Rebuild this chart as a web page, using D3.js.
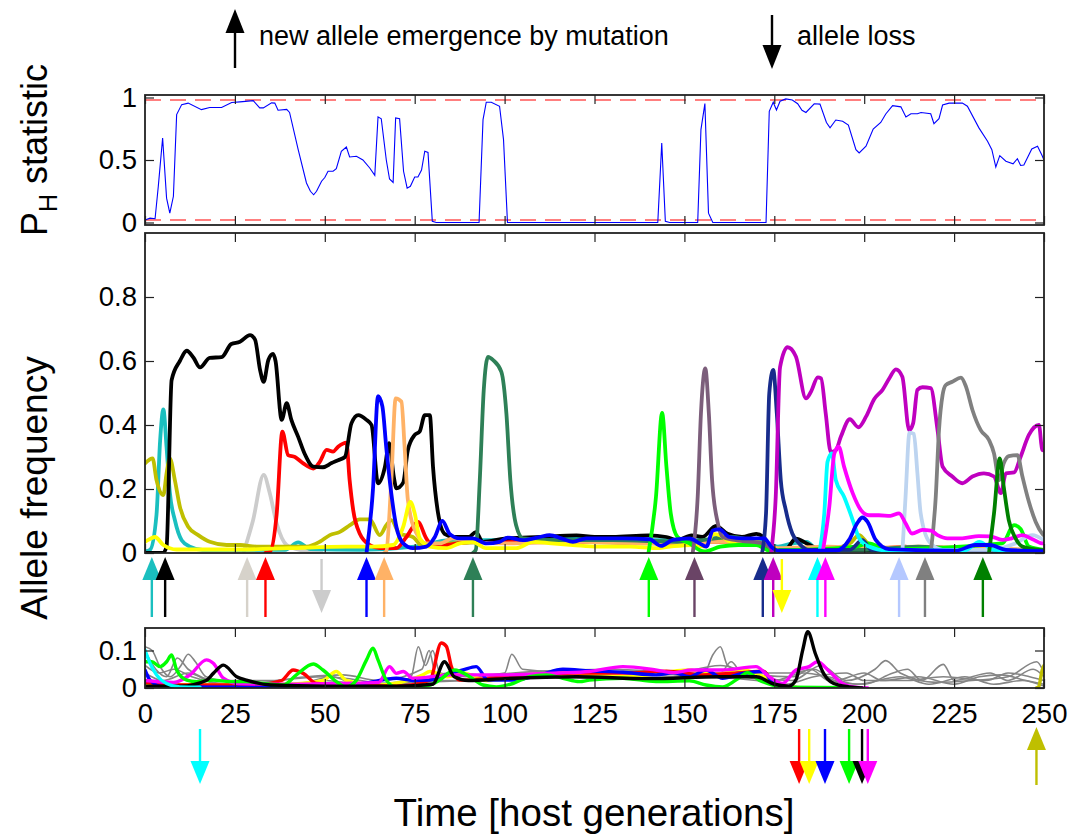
<!DOCTYPE html>
<html>
<head>
<meta charset="utf-8">
<script src="https://cdn.jsdelivr.net/npm/d3@7"></script>
<style>
  body { margin: 0; background: #fff; }
  svg { display: block; font-family: "Liberation Sans", Arial, sans-serif; }
</style>
</head>
<body>
<svg id="chart" width="1074" height="834"></svg>
<script>
// ---------- data ----------
const xTicks = [0, 25, 50, 75, 100, 125, 150, 175, 200, 225, 250];
const phTicks = [0, 0.5, 1];
const freqTicks = [0, 0.2, 0.4, 0.6, 0.8];
const lowTicks = [0, 0.1];
const phBounds = [0.02, 0.98];

// P_H statistic (top panel)
const phTime = [0,1.4,2.8,3.7,4.9,6,6.9,7.9,8.8,10.2,12,15.7,18,21.3,24.1,26.4,30.1,31.9,32.9,35.2,36.1,37,39.4,40.2,42.6,44.9,46,46.9,47.7,49.1,50,50.9,52.3,53.2,54.6,56,56.9,58.8,60.6,62.5,63.9,64.8,65.7,67.1,68,69,69.7,70.8,71.9,72.9,73.8,75,75.9,76.9,77.8,78.7,79.9,81,92.9,94,94.9,96.3,98.6,99.7,100.8,142.6,143.7,144.7,145.9,153.7,154.6,155.7,156.7,157.9,172.7,173.6,174.7,175.6,176.6,178.2,180,181.5,182.7,183.8,186.1,187.7,189.5,190.5,192.1,194,195.6,197.7,198.6,200.5,202.5,204.6,206,207.9,210.2,211.6,213,214.8,215.8,218.5,219.4,220.8,221.8,223.6,227.3,228.7,231.9,234.3,235.5,236.6,237.7,239.4,241.4,242.6,243.5,244.4,246.6,248.2,249.4,250];
const phValue = [0.02,0.035,0.03,0.29,0.676,0.195,0.075,0.21,0.863,0.943,0.955,0.903,0.92,0.92,0.96,0.965,0.975,0.917,0.917,0.957,0.955,0.898,0.905,0.88,0.583,0.316,0.25,0.222,0.25,0.33,0.36,0.41,0.41,0.43,0.57,0.604,0.524,0.53,0.5,0.436,0.377,0.845,0.83,0.5,0.348,0.32,0.836,0.83,0.41,0.275,0.29,0.364,0.364,0.42,0.57,0.56,0.01,0,0,0.823,0.962,0.962,0.93,0.663,0,0,0.636,0.01,0,0,0.743,0.951,0.075,0,0,0.89,0.962,0.9,0.97,0.989,0.98,0.95,0.898,0.88,0.95,0.947,0.8,0.757,0.82,0.81,0.78,0.583,0.556,0.61,0.748,0.8,0.868,0.935,0.925,0.845,0.87,0.87,0.88,0.87,0.79,0.83,0.94,0.955,0.955,0.93,0.757,0.65,0.583,0.444,0.535,0.49,0.47,0.51,0.456,0.46,0.588,0.61,0.54,0.5];

// allele frequencies, middle panel: [time, frequency]
const lightGrayFreq = [[27.5,0.005],[30,0.1],[33,0.244],[34.7,0.187],[36.6,0.093],[39.4,0.025],[43,0.01],[49,0.003]];
const tealFreq = [[0,0.005],[1.4,0.01],[3.2,0.12],[4.2,0.35],[5.1,0.449],[6,0.33],[6.9,0.19],[8.3,0.103],[10.2,0.04],[12.5,0.02],[16,0.01],[39,0.01],[42.6,0.033],[46,0.012],[60,0.01],[75,0.02],[85,0.04],[100,0.04],[110,0.045],[125,0.045],[140,0.04],[160,0.04],[172,0.035],[176,0.02],[180,0.03],[184,0.035],[187,0.01],[250,0.005]];
const oliveFreq = [[0,0.28],[2.1,0.296],[3.2,0.228],[5.1,0.181],[6,0.249],[6.9,0.296],[8.3,0.228],[9.7,0.145],[12,0.082],[14.8,0.056],[18,0.035],[22.7,0.025],[26.4,0.025],[31,0.02],[44.9,0.02],[48.6,0.035],[51.4,0.056],[54.2,0.066],[57,0.087],[59.7,0.105],[62.5,0.105],[65.3,0.056],[67.1,0.087],[68.5,0.103],[70.8,0.06],[74.5,0.05],[77.3,0.02],[85,0.03],[100,0.035],[120,0.035],[140,0.03],[160,0.04],[172,0.03],[176,0.01],[190,0.012],[196,0.03],[198.6,0.056],[201,0.03],[206,0.012],[250,0.005]];
const redFreq = [[33.5,0],[34.7,0.003],[36.6,0.12],[38.2,0.379],[39.8,0.306],[41.7,0.3],[44,0.28],[46.8,0.264],[48.6,0.285],[50.5,0.322],[52.3,0.317],[53.7,0.332],[56,0.345],[56.9,0.228],[57.9,0.134],[59.7,0.061],[62.5,0.025],[65.3,0.015],[69.9,0.015],[72.7,0.05],[75.9,0.097],[78.2,0.046],[80.1,0.02],[91.2,0.035],[110,0.035],[125,0.035],[145,0.03],[160,0.035],[172,0.03],[175,0.01],[200,0.01],[211.5,0.02],[215,0.01],[250,0.005]];
const blackFreq = [[0,0],[5,0],[6,0.02],[7.4,0.54],[9.7,0.6],[11.6,0.632],[13.5,0.61],[15.3,0.58],[18,0.61],[21.3,0.612],[24,0.653],[26.4,0.66],[29.2,0.681],[30.6,0.667],[32,0.572],[33,0.535],[34.3,0.603],[35.6,0.622],[36.3,0.6],[38,0.416],[39.4,0.468],[40.7,0.416],[42.6,0.363],[44.4,0.31],[46.8,0.27],[49.5,0.268],[51.9,0.281],[53.7,0.29],[55.6,0.3],[57.4,0.405],[59.3,0.431],[61.6,0.416],[63,0.4],[64.8,0.218],[66.7,0.268],[67.9,0.343],[69.2,0.237],[69.9,0.202],[71.8,0.22],[73.1,0.322],[75,0.369],[76.4,0.38],[77.8,0.431],[79.2,0.431],[80.1,0.268],[81.5,0.124],[83.3,0.06],[86,0.05],[90,0.05],[92,0.065],[94,0.035],[100,0.045],[110,0.05],[120,0.055],[125,0.05],[130,0.05],[140,0.055],[145,0.05],[148,0.04],[152,0.055],[155,0.05],[158.8,0.085],[162,0.06],[166,0.05],[170,0.06],[172,0.05],[174,0.01],[178,0.01],[181,0.045],[184,0.03],[188,0.01],[250,0.005]];
const peachFreq = [[66.5,0],[67.1,0.005],[68.5,0.228],[69.7,0.483],[71.3,0.473],[72.2,0.33],[73.1,0.166],[75.5,0.061],[78.2,0.03],[82,0.03],[85.6,0.046],[91,0.035],[100,0.03],[120,0.035],[140,0.03],[160,0.035],[172,0.03],[176,0.015],[190,0.02],[200,0.015],[215,0.02],[230,0.015],[250,0.01]];
const seaGreenFreq = [[91.2,0],[92,0.01],[93.1,0.228],[94.2,0.509],[95.4,0.613],[96.8,0.603],[99.1,0.566],[100.5,0.436],[101.6,0.228],[103.2,0.087],[105.1,0.046],[115,0.04],[130,0.04],[150,0.035],[163,0.05],[170,0.035],[176,0.01],[200,0.01],[215,0.02],[230,0.01],[250,0.005]];
const yellowFreq = [[0,0.035],[0.9,0.041],[2.8,0.05],[5.1,0.025],[8.8,0.011],[27,0.011],[40,0.015],[56,0.02],[63.4,0.02],[69,0.025],[71.8,0.082],[73.8,0.16],[75,0.124],[76.4,0.046],[79.2,0.02],[83.8,0.015],[87.5,0.03],[91,0.035],[94.9,0.015],[103.2,0.015],[107.9,0.035],[113,0.03],[119,0.025],[126,0.02],[135,0.02],[142,0.015],[146,0.02],[152,0.025],[156,0.02],[158,0.06],[160,0.055],[163,0.035],[170,0.035],[174,0.02],[177,0.002]];
const greenFreq = [[140,0],[142.1,0.176],[143.8,0.438],[145,0.27],[146.2,0.124],[148.1,0.05],[151.4,0.03],[155.5,0.005],[160,0.02],[165,0.025],[170,0.025],[173.5,0.008],[197.7,0.02],[201.3,0.03],[206,0.012],[238.4,0.03],[241.7,0.087],[243.5,0.075],[245.8,0.02],[250,0.01]];
const mauveFreq = [[152.3,0],[153.7,0.176],[154.6,0.436],[155.8,0.577],[156.8,0.436],[157.7,0.228],[159.3,0.093],[160.6,0.05],[164.3,0.04],[171.8,0.03],[175,0.005]];
const navyFreq = [[171.6,0],[172.7,0.124],[173.6,0.499],[174.7,0.572],[175.7,0.436],[176.8,0.228],[178.2,0.134],[180,0.061],[181.9,0.03],[184.6,0.01],[196,0.01],[199.5,0.04],[202,0.01],[250,0.005]];
const purpleFreq = [[174.1,0],[175.4,0.176],[176.6,0.581],[178.7,0.643],[181,0.614],[183.8,0.483],[185.2,0.504],[187.1,0.549],[188,0.546],[189.3,0.436],[190.7,0.316],[192.1,0.321],[193.5,0.363],[196,0.418],[198.4,0.393],[200.5,0.426],[202.8,0.481],[205.1,0.51],[207,0.546],[208.8,0.574],[210.6,0.551],[212.5,0.384],[213.6,0.405],[214.8,0.51],[216.2,0.518],[218.5,0.515],[220.4,0.384],[221.8,0.27],[224.5,0.239],[227.3,0.218],[230.1,0.239],[233.3,0.249],[236.1,0.239],[238,0.187],[239.4,0.249],[241.7,0.252],[243.5,0.301],[245.8,0.369],[248.6,0.4],[249.5,0.322],[250,0.32]];
const lightBlueFreq = [[210.6,0],[211.5,0.176],[212.6,0.376],[213.8,0.372],[214.8,0.249],[215.7,0.124],[218.1,0.035],[221.8,0.01],[235,0.01],[242,0.03],[246.8,0.056],[250,0.04]];
const grayFreq = [[218.5,0],[219.9,0.176],[220.8,0.384],[221.8,0.494],[222.7,0.525],[224.5,0.535],[226.9,0.548],[228.3,0.52],[230.1,0.447],[232.4,0.384],[234.7,0.353],[236.1,0.311],[237.5,0.228],[238.8,0.28],[240.2,0.303],[242.6,0.306],[244,0.239],[245.8,0.16],[247.7,0.097],[249.5,0.061],[250,0.055]];
const cyanFreq = [[187.5,0],[188.9,0.124],[189.8,0.285],[191,0.311],[192.1,0.228],[194.4,0.176],[196.8,0.103],[198.6,0.046],[201.3,0.02],[206,0.008],[228,0.008],[232,0.035],[236,0.01],[250,0.006]];
const magentaFreq = [[188.4,0],[190.3,0.145],[191.7,0.311],[192.9,0.332],[194.4,0.27],[196.8,0.187],[199.1,0.134],[201.3,0.118],[204.1,0.118],[207.3,0.116],[209.7,0.124],[211.5,0.093],[213.3,0.061],[216.2,0.072],[218.5,0.07],[220.4,0.056],[223.1,0.046],[227.3,0.046],[231.9,0.053],[235,0.052],[238.4,0.041],[241,0.046],[244,0.056],[246.8,0.043],[249.5,0.03],[250,0.03]];
const darkGreenFreq = [[234.7,0],[236.1,0.124],[237.7,0.296],[238.8,0.207],[240.2,0.103],[242.1,0.046],[244,0.02],[250,0.008]];
const blueFreq = [[61.6,0],[63.4,0.2],[64.8,0.49],[66,0.459],[67.1,0.329],[68.5,0.185],[69.9,0.082],[71.8,0.03],[74.5,0.015],[78.2,0.02],[80.6,0.05],[82.7,0.1],[84.7,0.06],[87.5,0.046],[91.2,0.046],[94.9,0.03],[98.6,0.035],[100.9,0.048],[105.1,0.04],[109.7,0.05],[112.5,0.056],[116,0.045],[119,0.035],[122.7,0.046],[127,0.046],[132.9,0.046],[140.3,0.043],[143.5,0.022],[146.8,0.041],[151.4,0.046],[154.2,0.03],[156.1,0.02],[157.9,0.07],[159.7,0.074],[162.5,0.05],[166.2,0.046],[172.2,0.046],[174.1,0.02],[176.4,0.007],[192.1,0.007],[195.8,0.041],[198.1,0.094],[199.5,0.111],[200.9,0.098],[203.2,0.041],[206.9,0.012],[225.4,0.007],[230.9,0.025],[235,0.025],[239.4,0.01],[249.5,0.006]];

// allele frequencies, bottom panel
const lowGray1 = [[0,0.11],[2,0.1],[4,0.06],[7,0.03],[10,0.06],[12,0.09],[14,0.07],[17,0.03],[25,0.015],[40,0.01],[50,0.02],[60,0.01],[70,0.015],[74,0.03],[76,0.11],[78,0.06],[80,0.1],[82,0.04],[90,0.03],[100,0.04],[102,0.09],[105,0.05],[120,0.04],[140,0.04],[155,0.03],[158,0.09],[160,0.11],[162,0.06],[170,0.03],[180,0.02],[188,0.06],[195,0.02],[203,0.05],[206,0.073],[210,0.04],[220,0.015],[230,0.02],[240,0.03],[248,0.07],[250,0.04]];
const lowGray2 = [[0,0.1],[3,0.05],[6,0.03],[9,0.08],[12,0.05],[20,0.02],[35,0.02],[45,0.03],[55,0.035],[65,0.02],[77,0.05],[79,0.1],[81,0.03],[95,0.035],[110,0.045],[130,0.05],[150,0.04],[160,0.04],[163,0.07],[166,0.04],[180,0.03],[185,0.05],[190,0.02],[200,0.01],[208,0.04],[212,0.05],[216,0.02],[222,0.063],[225,0.02],[235,0.04],[240,0.02],[247,0.05],[250,0.03]];
const lowGray3 = [[0,0.06],[4,0.04],[8,0.05],[13,0.03],[25,0.01],[50,0.03],[70,0.01],[85,0.04],[100,0.03],[120,0.03],[145,0.035],[160,0.06],[170,0.04],[180,0.04],[186,0.05],[192,0.02],[200,0.04],[205,0.02],[215,0.03],[225,0.01],[232,0.03],[238,0.035],[245,0.02],[250,0.01]];
const lowGray4 = [[0,0.04],[5,0.02],[12,0.04],[20,0.01],[40,0.005],[52,0.03],[60,0.005],[80,0.02],[95,0.02],[115,0.035],[135,0.045],[150,0.035],[165,0.03],[175,0.02],[183,0.04],[190,0.03],[198,0.01],[210,0.03],[218,0.01],[228,0.03],[236,0.01],[244,0.02],[250,0.005]];
const lowGray5 = [[0,0.02],[10,0.01],[30,0.005],[60,0.01],[90,0.02],[110,0.03],[130,0.025],[150,0.03],[170,0.02],[178,0.01],[186,0.03],[195,0.04],[200,0.02],[212,0.02],[222,0.03],[234,0.02],[240,0.04],[246,0.03],[250,0.02]];
const lowYellow = [[0,0.01],[20,0.008],[40,0.01],[49.5,0.02],[53.2,0.044],[56,0.02],[65,0.008],[73,0.02],[77.3,0.035],[79.2,0.044],[84,0.03],[88.4,0.04],[95,0.02],[105,0.03],[120,0.035],[135,0.03],[151.4,0.048],[158,0.035],[165.3,0.05],[172,0.03],[177,0.005],[184.7,0]];
const lowRed = [[0,0.015],[10,0.008],[30,0.008],[38,0.02],[41.2,0.048],[44,0.039],[47.7,0.012],[55,0.008],[70,0.005],[79.2,0.021],[82.4,0.12],[83.8,0.111],[85.2,0.057],[87.5,0.021],[95,0.025],[105,0.035],[120,0.04],[135,0.04],[145,0.045],[155,0.035],[165,0.04],[172,0.045],[175,0.01],[182,0]];
const lowBlue = [[0,0.048],[1.4,0.021],[5.1,0.003],[30,0.002],[50,0.005],[60.6,0.012],[69.9,0.026],[74.5,0.02],[79,0.021],[84.7,0.039],[88.4,0.048],[92.1,0.057],[95.4,0.021],[102,0.021],[110,0.035],[116.2,0.05],[123.6,0.046],[132.9,0.042],[142.1,0.035],[147,0.041],[151.4,0.03],[156,0.048],[160.6,0.026],[166.2,0.039],[171.8,0.044],[174.1,0.021],[176.4,0.002],[189,0]];
const lowMagenta = [[0,0.02],[8,0.015],[12.5,0.035],[17.1,0.075],[19,0.066],[21.8,0.026],[26,0.012],[40,0.01],[55,0.012],[65,0.015],[68,0.057],[69.9,0.039],[71.8,0.044],[74.5,0.026],[85,0.035],[100,0.035],[115,0.04],[123.6,0.044],[132.9,0.057],[142,0.048],[147,0.041],[152,0.048],[160.6,0.048],[169.9,0.057],[173.6,0.03],[177.3,0.012],[181,0.048],[184.7,0.057],[187,0.07],[190.3,0.044],[194,0.012],[197.7,0.002],[201,0]];
const lowGreen = [[0,0.07],[1.9,0.07],[4.2,0.057],[6,0.07],[7.4,0.088],[8.8,0.048],[11.6,0.021],[14.4,0.017],[19,0.021],[23.6,0.017],[28,0.017],[32.9,0.012],[38.4,0.008],[42.1,0.035],[46.8,0.064],[49.5,0.048],[53.2,0.017],[56,0.003],[58.8,0.021],[61.6,0.075],[63.4,0.106],[64.8,0.075],[67.1,0.021],[69.9,0.002],[75.5,0.003],[79.2,0.008],[81.9,0.021],[86.1,0.048],[90.3,0.03],[94,0.008],[97.7,0.003],[102.3,0.012],[106.9,0.03],[111.6,0.035],[116.2,0.026],[120.8,0.017],[123.6,0.021],[132.9,0.026],[142.1,0.017],[151.4,0.019],[156,0.008],[160.6,0.003],[164.3,0.021],[167.6,0.041],[170.8,0.021],[174.5,0.008],[179.1,0.002],[195.8,0.001]];
const lowBlack = [[0,0.005],[10,0.005],[17,0.02],[19,0.039],[21.8,0.061],[25.5,0.03],[28.2,0.021],[35,0.008],[50,0.005],[70,0.005],[80,0.01],[83.3,0.07],[86,0.03],[90,0.02],[100,0.025],[120,0.03],[140,0.025],[160,0.03],[170,0.03],[175,0.01],[179,0.005],[181,0.021],[182.9,0.101],[184.3,0.15],[186.4,0.092],[188.7,0.039],[191.5,0.012],[195.8,0.003],[199.4,0]];
const lowCyan = [[0,0.101],[1.4,0.066],[3.2,0.035],[6,0.012],[9.7,0.003],[15.3,0.002]];
const lowOlive = [[247.9,0],[248.5,0.003],[249.5,0.048],[250,0.06]];

// arrow events (time, allele)
const gainTimes   = [1.9, 5.6, 28.4, 33.5, 61.6, 66.5, 91.2, 140.1, 152.8, 171.8, 174.7, 187, 189.2, 209.7, 216.9, 233];
const gainAlleles = ["teal","black","beige","red","blue","peach","seaGreen","green","mauveDark","navy","purple","cyan","magenta","lightBlueArrow","gray","darkGreen"];
const lossTimes   = [49.1, 177.1];
const lossAlleles = ["lightGray","yellow"];
const lowLossTimes   = [15.3, 181.9, 184.7, 189.1, 195.8, 199.4, 201];
const lowLossAlleles = ["cyan","red","yellow","blue","green","black","magenta"];
const lowGainTimes   = [247.9];
const lowGainAlleles = ["olive"];

const colors = {
  teal: "#1abfbf", black: "#000000", beige: "#d6d2ca", red: "#ff0000", blue: "#0000ff",
  peach: "#ffb266", seaGreen: "#2e8057", green: "#00ff00", mauve: "#7c5e7b", mauveDark: "#6a4466",
  navy: "#182c8c", purple: "#bf00bf", cyan: "#00ffff", magenta: "#ff00ff", lightBlue: "#bdd4f0",
  lightBlueArrow: "#b5c8ff", gray: "#808080", darkGreen: "#008000", lightGray: "#cccccc",
  yellow: "#ffff00", olive: "#bfbf00"
};

const midSeries = [
  [lightGrayFreq, "lightGray"], [tealFreq, "teal"], [oliveFreq, "olive"], [redFreq, "red"],
  [blackFreq, "black"], [peachFreq, "peach"], [seaGreenFreq, "seaGreen"], [yellowFreq, "yellow"],
  [greenFreq, "green"], [mauveFreq, "mauve"], [navyFreq, "navy"], [purpleFreq, "purple"],
  [lightBlueFreq, "lightBlue"], [grayFreq, "gray"], [cyanFreq, "cyan"], [magentaFreq, "magenta"],
  [darkGreenFreq, "darkGreen"], [blueFreq, "blue"]
];
const lowGraySeries = [lowGray1, lowGray2, lowGray3, lowGray4, lowGray5];
const lowSeries = [
  [lowYellow, "yellow"], [lowRed, "red"], [lowBlue, "blue"], [lowMagenta, "magenta"],
  [lowGreen, "green"], [lowBlack, "black"], [lowCyan, "cyan"], [lowOlive, "olive"]
];

// ---------- scales ----------
const svg = d3.select("#chart");
const x = d3.scaleLinear().domain([0, 250]).range([145, 1044]);
const yPH = d3.scaleLinear().domain([-0.02, 1.02]).range([225, 95]);
const yMid = d3.scaleLinear().domain([0, 1]).range([553, 233]);
const yLow = d3.scaleLinear().domain([0, 0.16]).range([688, 628]);

let clipId = 0;
function panel(yScale, yTicks, showXLabels, drawContent) {
  const [y0, y1] = yScale.range();
  const id = "clip" + (clipId++);
  svg.append("clipPath").attr("id", id).append("rect")
    .attr("x", x.range()[0]).attr("y", y1)
    .attr("width", x.range()[1] - x.range()[0]).attr("height", y0 - y1);
  const content = svg.append("g").attr("clip-path", `url(#${id})`);
  drawContent(content);

  const axisStyle = g => {
    g.select(".domain").remove();
    g.attr("font-size", 27.5).attr("font-family", null);
    g.selectAll(".tick line").attr("stroke", "#222").attr("stroke-width", 1.2);
    g.selectAll(".tick text").attr("fill", "#000");
  };
  svg.append("g").attr("transform", `translate(${x.range()[0]},0)`)
    .call(d3.axisLeft(yScale).tickValues(yTicks).tickSize(-9).tickPadding(8).tickFormat(d => String(d)))
    .call(axisStyle);
  svg.append("g").attr("transform", `translate(${x.range()[1]},0)`)
    .call(d3.axisRight(yScale).tickValues(yTicks).tickSize(-9).tickFormat(""))
    .call(axisStyle);
  svg.append("g").attr("transform", `translate(0,${y1})`)
    .call(d3.axisTop(x).tickValues(xTicks).tickSize(-9).tickFormat(""))
    .call(axisStyle);
  svg.append("g").attr("transform", `translate(0,${y0})`)
    .call(d3.axisBottom(x).tickValues(xTicks).tickSize(-9).tickPadding(15)
      .tickFormat(showXLabels ? d => String(d) : ""))
    .call(axisStyle);

  svg.append("rect")
    .attr("x", x.range()[0]).attr("y", y1)
    .attr("width", x.range()[1] - x.range()[0]).attr("height", y0 - y1)
    .attr("fill", "none").attr("stroke", "#222").attr("stroke-width", 1.8);
}

// ---------- top panel: P_H statistic ----------
panel(yPH, phTicks, false, g => {
  g.selectAll(".bound").data(phBounds).join("line")
    .attr("x1", x.range()[0]).attr("x2", x.range()[1])
    .attr("y1", d => yPH(d)).attr("y2", d => yPH(d))
    .attr("stroke", "#ff0000").attr("stroke-width", 1.2).attr("stroke-dasharray", "16,9");
  g.append("path")
    .datum(d3.zip(phTime, phValue))
    .attr("fill", "none").attr("stroke", "#0000ff").attr("stroke-width", 1.1)
    .attr("d", d3.line().x(d => x(d[0])).y(d => yPH(d[1])));
});

// ---------- middle panel: allele frequencies ----------
const midLine = d3.line().curve(d3.curveMonotoneX).x(d => x(d[0])).y(d => yMid(d[1]));
panel(yMid, freqTicks, false, g => {
  g.selectAll(".allele").data(midSeries).join("path")
    .attr("fill", "none")
    .attr("stroke", d => colors[d[1]])
    .attr("stroke-width", 3.8)
    .attr("stroke-linejoin", "round").attr("stroke-linecap", "round")
    .attr("d", d => midLine(d[0]));
});

// ---------- bottom panel ----------
const lowLine = d3.line().curve(d3.curveMonotoneX).x(d => x(d[0])).y(d => yLow(d[1]));
panel(yLow, lowTicks, true, g => {
  g.selectAll(".grayline").data(lowGraySeries).join("path")
    .attr("fill", "none").attr("stroke", "#858585").attr("stroke-width", 1.6)
    .attr("d", d => lowLine(d));
  g.selectAll(".lowallele").data(lowSeries).join("path")
    .attr("fill", "none")
    .attr("stroke", d => colors[d[1]])
    .attr("stroke-width", 3.4)
    .attr("stroke-linejoin", "round").attr("stroke-linecap", "round")
    .attr("d", d => lowLine(d[0]));
});

// ---------- arrows ----------
function arrow(xPos, yTail, yTip, color, headLen = 23, headHalf = 9.5, width = 2.4) {
  const s = yTip > yTail ? 1 : -1;
  const base = yTip - s * headLen;
  svg.append("line")
    .attr("x1", xPos).attr("x2", xPos).attr("y1", yTail).attr("y2", base + s * 2)
    .attr("stroke", color).attr("stroke-width", width);
  svg.append("path")
    .attr("d", `M${xPos},${yTip}L${xPos - headHalf},${base}L${xPos + headHalf},${base}Z`)
    .attr("fill", color);
}
gainTimes.forEach((t, i) => arrow(x(t), 617, 557, colors[gainAlleles[i]]));
lossTimes.forEach((t, i) => arrow(x(t), 559, 613, colors[lossAlleles[i]]));
lowLossTimes.forEach((t, i) => arrow(x(t), 729, 784, colors[lowLossAlleles[i]]));
lowGainTimes.forEach((t, i) => arrow(x(t), 785, 727, colors[lowGainAlleles[i]]));

// annotations at top
arrow(235, 68, 9, "#000", 24, 9.5, 2.4);
svg.append("text").attr("x", 259).attr("y", 45).attr("font-size", 27)
  .text("new allele emergence by mutation");
arrow(772, 15, 69, "#000", 24, 9.5, 2.4);
svg.append("text").attr("x", 797).attr("y", 45).attr("font-size", 27)
  .text("allele loss");

// ---------- axis titles ----------
svg.append("text")
  .attr("transform", "translate(47,488) rotate(-90)")
  .attr("text-anchor", "middle").attr("font-size", 37)
  .text("Allele frequency");
const ph = svg.append("text")
  .attr("transform", "translate(47,150) rotate(-90)")
  .attr("text-anchor", "middle").attr("font-size", 36);
ph.append("tspan").text("P");
ph.append("tspan").attr("font-size", 25).attr("dy", 10).text("H");
ph.append("tspan").attr("dy", -10).text(" statistic");
svg.append("text")
  .attr("x", 594).attr("y", 826)
  .attr("text-anchor", "middle").attr("font-size", 38.5)
  .text("Time [host generations]");
</script>
</body>
</html>
